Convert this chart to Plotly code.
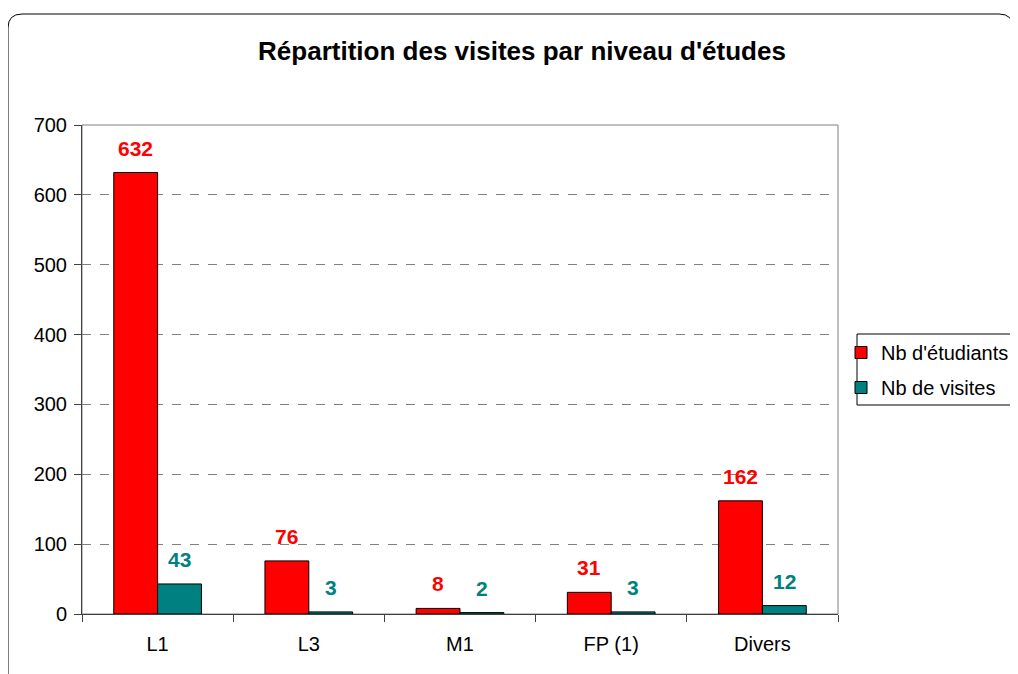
import plotly.graph_objects as go

categories = ["L1", "L3", "M1", "FP (1)", "Divers"]
nb_etudiants = [632, 76, 8, 31, 162]
nb_visites = [43, 3, 2, 3, 12]
y_ticks = [0, 100, 200, 300, 400, 500, 600, 700]

RED = "#FF0000"
TEAL = "#008080"
FONT = "Liberation Sans, Arial, sans-serif"

OFF = 8  # page body margin
W, H = 1018 - OFF, 674 - OFF
# plot area in screen px: x 82..838, y 125..614
L = 82 - OFF
T = 125 - OFF
R = W - (838 - OFF)
B = H - (614 - OFF)
pw, ph = W - L - R, H - T - B

def px(sx):
    return (sx - OFF - L) / pw

def py(sy):
    return (H - B - (sy - OFF)) / ph

fig = go.Figure()
fig.add_trace(go.Bar(x=categories, y=nb_etudiants, name="Nb d'étudiants",
                     marker=dict(color=RED, line=dict(color="black", width=1)),
                     legendgroup="a"))
fig.add_trace(go.Bar(x=categories, y=nb_visites, name="Nb de visites",
                     marker=dict(color=TEAL, line=dict(color="black", width=1)),
                     legendgroup="b"))

ann = []
for c, v in zip(categories, nb_etudiants):
    ann.append(dict(x=c, y=v, xref="x", yref="y", text=f"<b>{v}</b>", showarrow=False,
                    xshift=-22, yshift=11, yanchor="bottom",
                    font=dict(color=RED, size=21, family=FONT)))
for c, v in zip(categories, nb_visites):
    ann.append(dict(x=c, y=v, xref="x", yref="y", text=f"<b>{v}</b>", showarrow=False,
                    xshift=22, yshift=11, yanchor="bottom",
                    font=dict(color=TEAL, size=21, family=FONT)))

# outer rounded border (screen px)
x0, y0, x1, y1, r = 8, 14, 1013, 700, 14
path = (f"M {px(x0)},{py(y0 + r)} "
        f"Q {px(x0)},{py(y0)} {px(x0 + r)},{py(y0)} "
        f"L {px(x1 - r)},{py(y0)} "
        f"Q {px(x1)},{py(y0)} {px(x1)},{py(y0 + r)} "
        f"L {px(x1)},{py(y1)} "
        f"L {px(x0)},{py(y1)} Z")

shapes = [
    dict(type="path", path=path, xref="paper", yref="paper",
         line=dict(color="black", width=1), layer="below"),
    dict(type="rect", xref="paper", yref="paper", x0=0, y0=0, x1=1, y1=1,
         line=dict(color="#808080", width=1), layer="below"),
    # legend box
    dict(type="rect", xref="paper", yref="paper", x0=px(857), x1=px(1030),
         y0=py(405), y1=py(334), line=dict(color="black", width=1),
         fillcolor="white", layer="below"),
]

fig.update_layout(
    width=W, height=H,
    margin=dict(l=L, r=R, t=T, b=B, autoexpand=False),
    paper_bgcolor="white", plot_bgcolor="white",
    font=dict(family=FONT, size=20, color="black"),
    title=dict(text="<b>Répartition des visites par niveau d'études</b>",
               x=(522 - OFF) / W, xanchor="center", xref="container",
               y=1 - 43 / H, yanchor="middle", yref="container",
               font=dict(size=26, color="black", family=FONT)),
    barmode="group", bargap=0.42, bargroupgap=0,
    showlegend=True,
    legend=dict(x=px(841), y=py(333), xanchor="left", yanchor="top",
                borderwidth=0, bgcolor="rgba(0,0,0,0)",
                font=dict(size=20, family=FONT), traceorder="grouped",
                tracegroupgap=6),
    annotations=ann,
    shapes=shapes,
)
fig.update_xaxes(type="category", showgrid=False, showline=True, linecolor="#404040",
                 linewidth=1, ticks="outside", tickson="boundaries", ticklen=7,
                 tickcolor="#404040", tickfont=dict(size=20), zeroline=False,
                 ticklabelstandoff=12)
fig.update_yaxes(range=[0, 700], tickvals=y_ticks, showgrid=True, gridcolor="#808080",
                 griddash="dash", gridwidth=1, showline=True, linecolor="#404040",
                 ticks="outside", ticklen=7, tickcolor="#404040", tickfont=dict(size=20),
                 zeroline=False, ticklabelstandoff=3)

fig.write_html("out.html")
